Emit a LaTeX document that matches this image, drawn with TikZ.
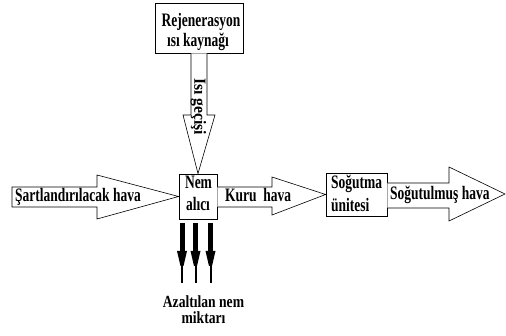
\documentclass[tikz,border=0pt]{standalone}
\usepackage{fontspec}
\setmainfont{Liberation Serif}
\usetikzlibrary{arrows.meta}
% narrow bold lettering used for the labels
\newcommand{\narrow}[1]{\scalebox{0.71}[1]{#1}}
\begin{document}
\begin{tikzpicture}[x=1pt,y=-1pt,
  box/.style={draw,line width=0.8pt,fill=white,inner sep=0pt},
  lbl/.style={inner sep=0pt,anchor=base west,font=\bfseries\fontsize{19}{21}\selectfont},
  clbl/.style={lbl,anchor=base},
  blockarrow/.style={draw,line width=0.6pt,fill=white},
  bar/.style={line width=5pt},
  tail/.style={line width=2pt}]
\useasboundingbox (0,0) rectangle (506,336);

% process boxes
\node[box,minimum width=88pt,minimum height=50pt] (src) at (199,28) {};
\node[box,minimum width=38pt,minimum height=45pt] (nem) at (198,196.5) {};
\node[box,minimum width=61pt,minimum height=43pt] (sog) at (356.5,194.5) {};

\node[clbl] (srcA) at (201,27) {\narrow{Rejenerasyon}};
\node[clbl] (srcB) at (198,47) {\narrow{ısı kaynağı}};
\node[clbl] (nemA) at (198.5,189) {\narrow{Nem}};
\node[clbl] (nemB) at (198,211) {\narrow{alıcı}};
\node[lbl] (sogA) at (331,189) {\narrow{Soğutma}};
\node[lbl] (sogB) at (331,212) {\narrow{ünitesi}};

% heat flow arrow from the source into the desiccant
\draw[blockarrow] (src.south -| 191,0) -- (191,115) -- (183,115) -- (nem.north)
  -- (215,115) -- (207,115) -- (src.south -| 207,0);
\node[inner sep=0pt,font=\bfseries\fontsize{17}{19}\selectfont,rotate=-90]
  (heat) at (198.5,106.5) {\scalebox{0.92}[1]{Isı geçişi}};

% incoming air
\draw[blockarrow] (12,187) -- (97,187) -- (97,175) -- (nem.west) -- (97,219)
  -- (97,207) -- (12,207) -- cycle;
\node[lbl] (in) at (15,202) {\narrow{Şartlandırılacak hava}};

% dry air
\draw[blockarrow] (nem.east |- 0,187) -- (272,187) -- (272,177) -- (sog.west)
  -- (272,215) -- (272,207) -- (nem.east |- 0,207);
\node[lbl] (dry) at (225,202) {\narrow{Kuru\ \ hava}};

% cooled air
\draw[blockarrow] (sog.east |- 0,183) -- (449,183) -- (449,167) -- (505,194)
  -- (449,221) -- (449,208) -- (sog.east |- 0,208);
\node[lbl] (out) at (390,200) {\narrow{Soğutulmuş hava}};

% removed moisture: three dark drop arrows
\foreach \c/\n in {182/d1,195.5/d2,210.5/d3}{
  \coordinate (\n) at (\c,283);
  \draw[bar] (\c,223) -- (\c,253);
  \fill (\c-5,251) -- (\c+5,251) -- (\c+1.5,266) -- (\c-1.5,266) -- cycle;
  \draw[tail] (\c,265) -- (\n);
}
\node[inner sep=0pt,align=center,anchor=north,font=\bfseries\fontsize{17}{16}\selectfont]
  (rem) at (203.5,295.5) {\scalebox{0.8}[1]{Azaltılan nem}\\\scalebox{0.8}[1]{miktarı}};
\end{tikzpicture}
\end{document}
